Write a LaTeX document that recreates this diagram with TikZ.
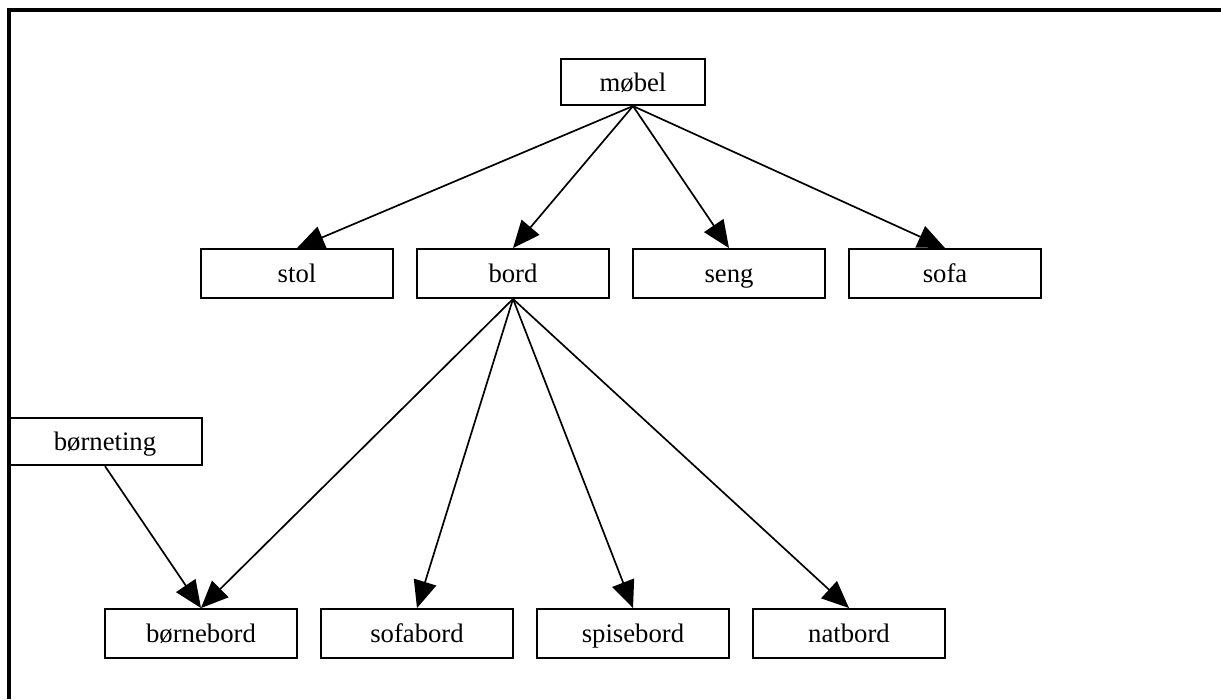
\documentclass[tikz,border=0pt]{standalone}
\usepackage{fontspec}
\setmainfont{Liberation Serif}
\usetikzlibrary{arrows.meta}
\tikzset{
	boks/.style={draw,line width=1.5pt,minimum width=4.8cm,minimum height=1.22cm,inner sep=0pt,text height=14pt,text depth=1pt,font=\fontsize{19}{21}\selectfont},
	pil/.style={line width=1.2pt,-{Triangle[length=0.68cm,width=0.58cm]}}
}
\begin{document}
\begin{tikzpicture}[x=0.025cm,y=-0.025cm]
		\useasboundingbox (0,0) rectangle (1221,699);
		\draw[line width=2.2pt] (9,699) -- (9,10) -- (1221,10);

		\node[boks,minimum width=3.62cm,minimum height=1.15cm] (mobel) at (633,82) {møbel};

		\node[boks] (stol) at (297,273.5) {stol};
		\node[boks] (bord) at (513,273.5) {bord};
		\node[boks] (seng) at (729,273.5) {seng};
		\node[boks] (sofa) at (945,273.5) {sofa};

		\node[boks,minimum width=4.85cm,minimum height=1.18cm] (borneting) at (105,441.5) {børneting};

		\node[boks] (bornebord) at (201,633.5) {børnebord};
		\node[boks] (sofabord) at (417,633.5) {sofabord};
		\node[boks] (spisebord) at (633,633.5) {spisebord};
		\node[boks] (natbord) at (849,633.5) {natbord};

		\foreach \k in {stol,bord,seng,sofa}{
			\draw[pil] (mobel.south) -- (\k.north);
			}

		\foreach \k in {bornebord,sofabord,spisebord,natbord}{
			\draw[pil] (bord.south) -- (\k.north);
			}

		\draw[pil] (borneting.south) -- (bornebord.north);
	\end{tikzpicture}
\end{document}
